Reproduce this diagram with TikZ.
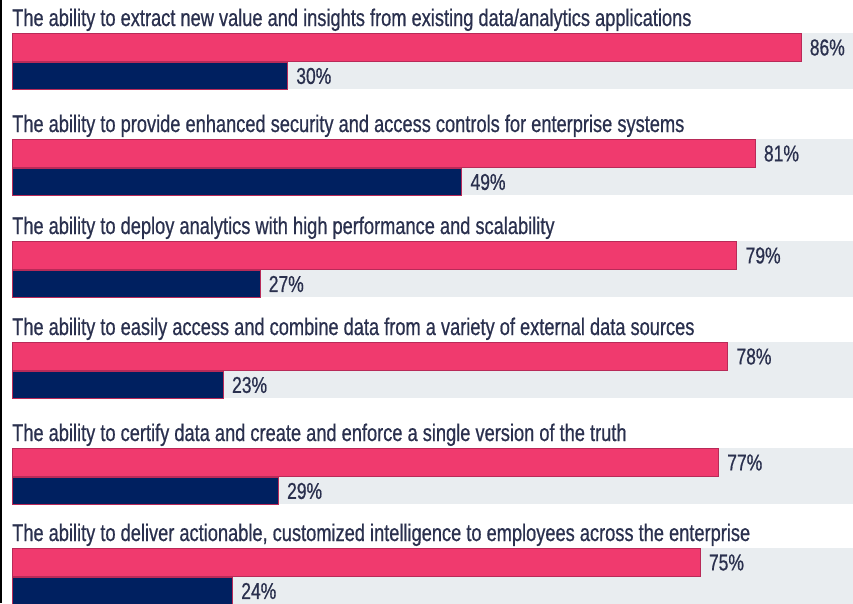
\documentclass[tikz,border=0pt]{standalone}
\usepackage{fontspec}
\setmainfont[FakeStretch=0.76, FakeBold=0.6]{Liberation Sans}
\usetikzlibrary{positioning, calc}
\definecolor{barpink}{RGB}{240,58,110}
\definecolor{barnavy}{RGB}{0,32,96}
\definecolor{barrim}{RGB}{184,42,88}
\definecolor{rowgrey}{RGB}{233,237,240}
\definecolor{inkblue}{RGB}{42,48,78}
\tikzstyle{Title} = [anchor=base west, inner sep=0pt, text=inkblue,
font=\fontsize{24}{26}\selectfont]
\tikzstyle{Value} = [anchor=west, inner sep=0pt, text=inkblue,
font=\fontsize{23}{25}\selectfont]
\tikzstyle{Pink} = [anchor=north west, fill=barpink, draw=barrim,
line width=1pt, inner sep=0pt, minimum height=28pt]
\tikzstyle{Navy} = [anchor=north west, fill=barnavy, draw=barrim,
line width=1pt, inner sep=0pt, minimum height=27pt]

\begin{document}
\begin{tikzpicture}[x=1pt, y=-1pt]
    \fill[white] (0,0) rectangle (853,603);
    \useasboundingbox (0,0) rectangle (853,603);
    \draw[line width=2pt] (1,0) -- (1,603);

    \foreach \top/\txt/\a/\b [count=\i] in {
        33/{The ability to extract new value and insights from existing data/analytics applications}/86/30,
        139/{The ability to provide enhanced security and access controls for enterprise systems}/81/49,
        241/{The ability to deploy analytics with high performance and scalability}/79/27,
        342/{The ability to easily access and combine data from a variety of external data sources}/78/23,
        448/{The ability to certify data and create and enforce a single version of the truth}/77/29,
        548/{The ability to deliver actionable, customized intelligence to employees across the enterprise}/75/24}
    {
        \fill[rowgrey] (12,\top) rectangle (853,\top+56);
        \node[Title] (title\i) at (12,\top-7) {\txt};
        \node[Pink, minimum width=\a*9.17pt] (pink\i) at (12,\top) {};
        \node[Navy, minimum width=\b*9.17pt] (navy\i) at (pink\i.south west) {};
        \node[Value, right=8pt of pink\i] (pinkval\i) {\a\%};
        \node[Value, right=8pt of navy\i] (navyval\i) {\b\%};
    }
\end{tikzpicture}
\end{document}
